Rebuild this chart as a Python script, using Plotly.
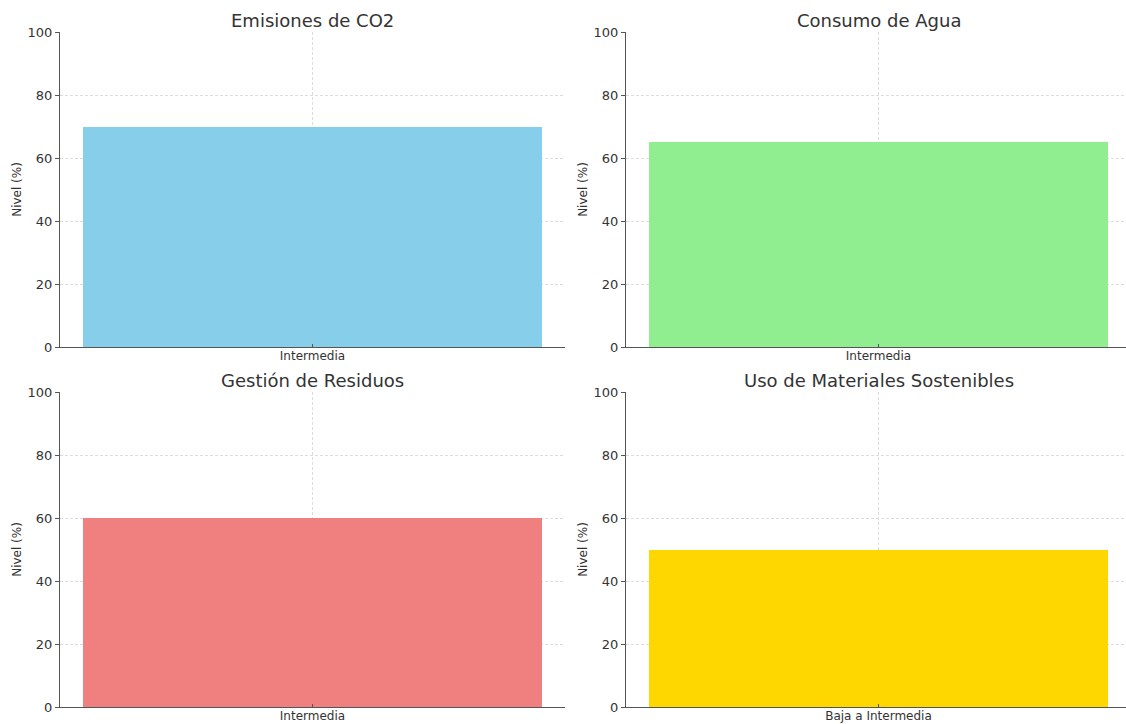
import plotly.graph_objects as go

titles = ["Emisiones de CO2", "Consumo de Agua", "Gestión de Residuos", "Uso de Materiales Sostenibles"]
categories = [["Intermedia"], ["Intermedia"], ["Intermedia"], ["Baja a Intermedia"]]
values = [[70], [65], [60], [50]]
colors = ["#87CEEB", "#90EE90", "#F08080", "#FFD700"]
y_ticks = [0, 20, 40, 60, 80, 100]
y_label = "Nivel (%)"

W, H = 1126, 724
# pixel boxes of each panel: (x0, x1, ytop, ybottom)
boxes = [(60, 565, 32, 347), (626, 1131, 32, 347), (60, 565, 392, 707), (626, 1131, 392, 707)]

fig = go.Figure()
font_family = "DejaVu Sans"
grid_col = "#dcdcdc"
for i in range(4):
    x0, x1, yt, yb = boxes[i]
    xa = "x" if i == 0 else f"x{i+1}"
    ya = "y" if i == 0 else f"y{i+1}"
    fig.add_trace(go.Bar(x=[0], y=values[i], width=0.8, marker=dict(color=colors[i], line=dict(width=0)),
                         xaxis=xa, yaxis=ya, showlegend=False, hoverinfo="y"))
    x1c = min(x1, W)
    full = 0.88
    rmax = -0.44 + full * (x1c - x0) / (x1 - x0)
    xkey = "xaxis" if i == 0 else f"xaxis{i+1}"
    ykey = "yaxis" if i == 0 else f"yaxis{i+1}"
    fig.update_layout(**{
        xkey: dict(domain=[x0 / W, x1c / W], range=[-0.44, rmax], anchor=ya,
                   tickmode="array", tickvals=[0], ticktext=categories[i],
                   showgrid=True, gridcolor=grid_col, griddash="3px,2px", gridwidth=0.8,
                   showline=True, linecolor="#555555", linewidth=1.2,
                   ticks="inside", ticklen=3, tickcolor="#555555",
                   ticklabelstandoff=-3,
                   tickfont=dict(family=font_family, size=12, color="#333333"),
                   zeroline=False, fixedrange=True, automargin=False),
        ykey: dict(domain=[(H - yb) / H, (H - yt) / H], range=[0, 100], anchor=xa,
                   tickmode="array", tickvals=y_ticks,
                   showgrid=True, gridcolor=grid_col, griddash="3px,2px", gridwidth=0.8,
                   showline=True, linecolor="#555555", linewidth=1.2,
                   ticks="outside", ticklen=4, tickcolor="#555555",
                   tickfont=dict(family=font_family, size=13, color="#333333"),
                   title=dict(text=y_label, font=dict(family=font_family, size=12, color="#333333"), standoff=3),
                   zeroline=False, fixedrange=True, automargin=False),
    })
    fig.add_annotation(text=titles[i], x=(x0 + x1) / 2 / W, y=(H - yt + 12) / H, xref="paper", yref="paper",
                       xanchor="center", yanchor="middle", showarrow=False,
                       font=dict(family=font_family, size=18, color="#333333"))

fig.update_layout(width=W, height=H, margin=dict(l=0, r=0, t=0, b=0),
                  plot_bgcolor="white", paper_bgcolor="white", bargap=0)
fig.write_html("out.html", config={"displayModeBar": False},
               post_script="document.body.style.margin='0';document.body.style.overflow='hidden';")
